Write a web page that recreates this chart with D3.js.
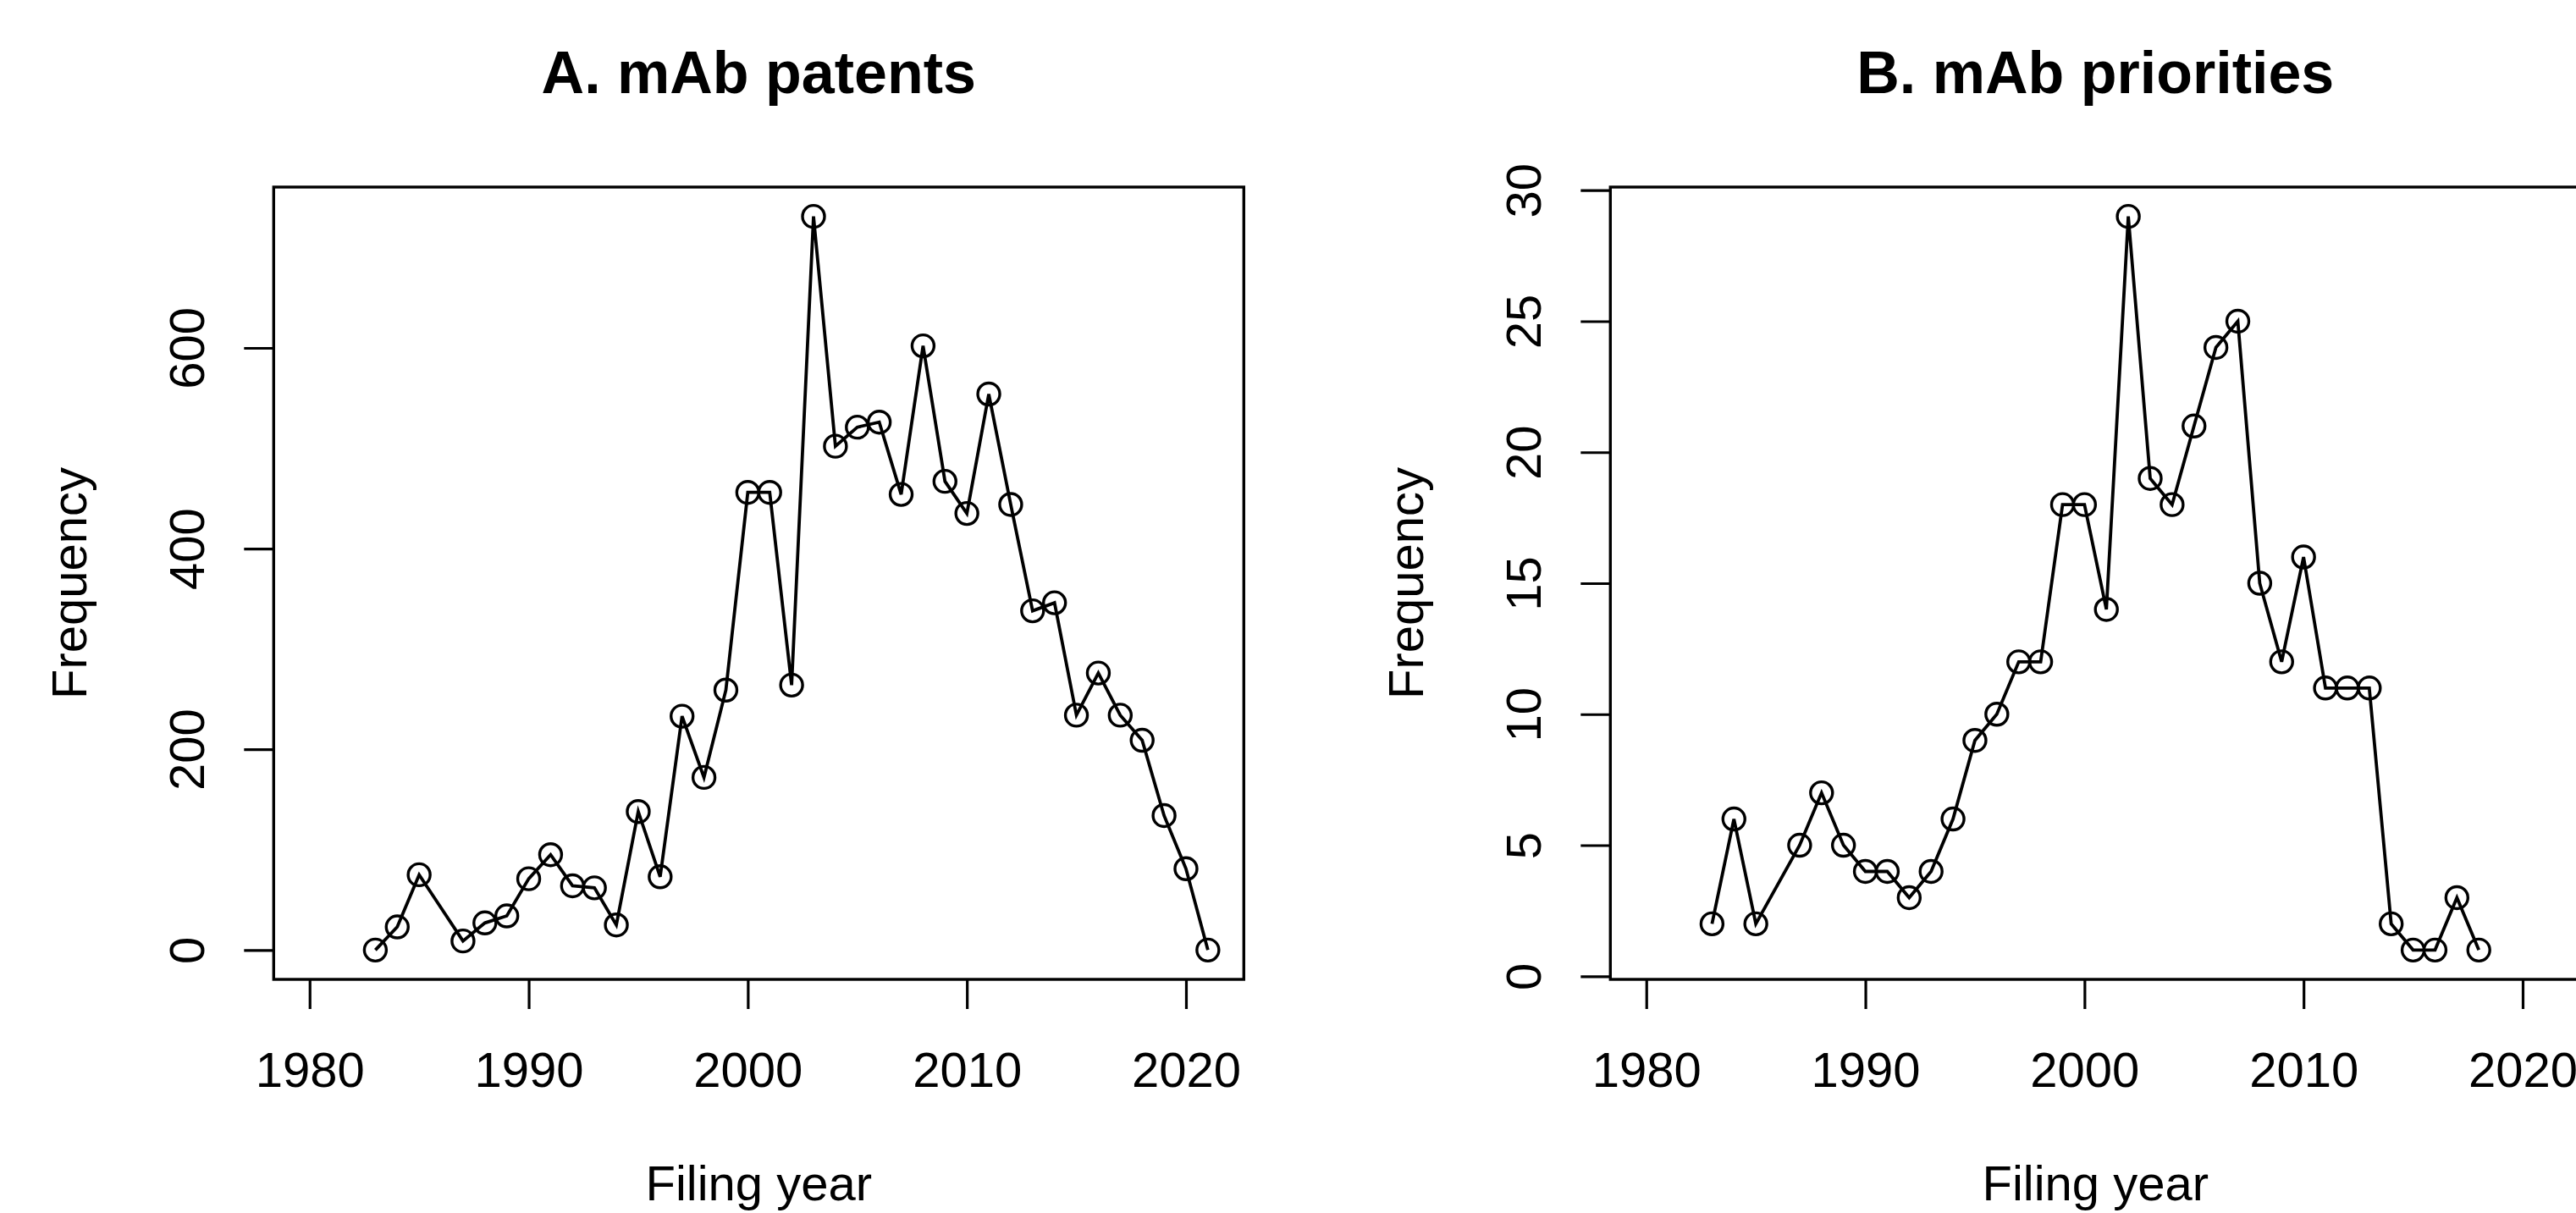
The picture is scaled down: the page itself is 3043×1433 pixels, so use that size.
<!DOCTYPE html>
<html>
<head>
<meta charset="utf-8">
<script src="https://cdn.jsdelivr.net/npm/d3@7"></script>
<style>
  html, body { margin: 0; padding: 0; background: #ffffff; }
  svg { display: block; }
  text { font-family: "Liberation Sans", Arial, Helvetica, sans-serif; fill: #000; }
</style>
</head>
<body>
<svg id="chart" width="3043" height="1433"></svg>
<script>
// ---- data ----
const yearsA = [1983,1984,1985,1987,1988,1989,1990,1991,1992,1993,1994,1995,1996,1997,1998,1999,2000,2001,2002,2003,2004,2005,2006,2007,2008,2009,2010,2011,2012,2013,2014,2015,2016,2017,2018,2019,2020,2021];
const patentsA = [0,23,75,9,27,34,71,95,64,62,25,138,73,233,172,259,456,456,264,731,502,521,526,454,602,467,435,554,444,338,346,234,276,234,209,134,81,0];

const yearsB = [1983,1984,1985,1987,1988,1989,1990,1991,1992,1993,1994,1995,1996,1997,1998,1999,2000,2001,2002,2003,2004,2005,2006,2007,2008,2009,2010,2011,2012,2013,2014,2015,2016,2017,2018];
const prioritiesB = [2,6,2,5,7,5,4,4,3,4,6,9,10,12,12,18,18,14,29,19,18,21,24,25,15,12,16,11,11,11,2,1,1,3,1];

const xTicks = [1980,1990,2000,2010,2020];
const yTicksA = [0,200,400,600];
const yTicksB = [0,5,10,15,20,25,30];
const xLimits = [1980, 2021];

const titles = ["A. mAb patents", "B. mAb priorities"];
const xTitle = "Filing year";
const yTitle = "Frequency";

// ---- layout ----
const svg = d3.select("#chart");
svg.append("rect").attr("width", 3043).attr("height", 1433).attr("fill", "#fff");

const boxW = 1146, boxTop = 221, boxH = 936;
const panelLefts = [323.3, 1902.3];
const fontBase = 58, fontTitle = 70;

function extend(lim) { const d = (lim[1] - lim[0]) * 0.04; return [lim[0] - d, lim[1] + d]; }

function drawPanel(idx, years, values, yTicks) {
  const left = panelLefts[idx];
  const g = svg.append("g");
  const x = d3.scaleLinear().domain(extend(xLimits)).range([left, left + boxW]);
  const y = d3.scaleLinear().domain(extend(d3.extent(values))).range([boxTop + boxH, boxTop]);

  // x axis
  const xa = g.append("g").attr("transform", `translate(0,${boxTop + boxH})`)
    .call(d3.axisBottom(x).tickValues(xTicks).tickFormat(d3.format("d")).tickSize(35).tickSizeOuter(0));
  xa.select(".domain").remove();
  xa.selectAll(".tick line").attr("stroke", "#000").attr("stroke-width", 3.2);
  xa.selectAll(".tick text").attr("y", 127).attr("dy", null)
    .style("font-size", fontBase + "px").style("font-family", "Liberation Sans, Arial, sans-serif").attr("fill", "#000");

  // y axis
  const ya = g.append("g").attr("transform", `translate(${left},0)`)
    .call(d3.axisLeft(y).tickValues(yTicks).tickFormat(d3.format("d")).tickSize(35).tickSizeOuter(0));
  ya.select(".domain").remove();
  ya.selectAll(".tick line").attr("stroke", "#000").attr("stroke-width", 3.2);
  ya.selectAll(".tick text").attr("x", null).attr("dy", null)
    .attr("transform", "translate(-82,0) rotate(-90)")
    .attr("text-anchor", "middle")
    .style("font-size", fontBase + "px").style("font-family", "Liberation Sans, Arial, sans-serif").attr("fill", "#000");

  // box
  g.append("rect").attr("x", left).attr("y", boxTop).attr("width", boxW).attr("height", boxH)
    .attr("fill", "none").attr("stroke", "#000").attr("stroke-width", 3.4);

  // line
  const pts = years.map((yr, i) => [yr, values[i]]);
  g.append("path").datum(pts)
    .attr("d", d3.line().x(d => x(d[0])).y(d => y(d[1])))
    .attr("fill", "none").attr("stroke", "#000").attr("stroke-width", 3.8).attr("stroke-linejoin", "miter");

  // points
  g.selectAll("circle.pt").data(pts).enter().append("circle").attr("class", "pt")
    .attr("cx", d => x(d[0])).attr("cy", d => y(d[1])).attr("r", 13)
    .attr("fill", "none").attr("stroke", "#000").attr("stroke-width", 3.4);

  // titles
  const cx = left + boxW / 2;
  g.append("text").attr("x", cx).attr("y", 110).attr("text-anchor", "middle")
    .style("font-size", fontTitle + "px").style("font-weight", "bold").text(titles[idx]);
  g.append("text").attr("x", cx).attr("y", 1418).attr("text-anchor", "middle")
    .style("font-size", fontBase + "px").text(xTitle);
  g.append("text").attr("transform", `translate(${left - 221.6},${boxTop + boxH / 2}) rotate(-90)`)
    .attr("text-anchor", "middle").style("font-size", fontBase + "px").text(yTitle);
}

drawPanel(0, yearsA, patentsA, yTicksA);
drawPanel(1, yearsB, prioritiesB, yTicksB);
</script>
</body>
</html>
